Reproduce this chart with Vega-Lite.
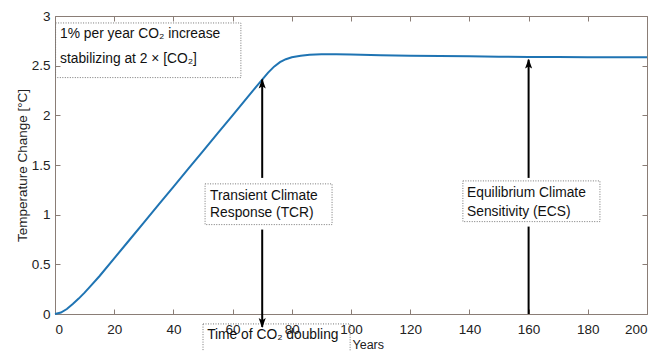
{
  "$schema": "https://vega.github.io/schema/vega-lite/v6.json",
  "width": 592,
  "height": 298,
  "autosize": "none",
  "padding": {"left": 55, "top": 16, "right": 14, "bottom": 37},
  "background": "white",
  "config": {
    "view": {"stroke": "#8a7d76", "strokeWidth": 1},
    "font": "Liberation Sans",
    "axis": {
      "grid": false,
      "domain": false,
      "tickColor": "#8a7d76",
      "tickSize": -5,
      "labelFont": "Liberation Sans",
      "labelFontSize": 13.5,
      "labelColor": "#222222",
      "titleFont": "Liberation Sans",
      "titleFontSize": 13,
      "titleFontWeight": "normal",
      "titleColor": "#222222"
    }
  },
  "datasets": {
    "curve": [
      {"year": 0, "temp": 0}, {"year": 2, "temp": 0.015}, {"year": 4, "temp": 0.05},
      {"year": 6, "temp": 0.1}, {"year": 8, "temp": 0.155}, {"year": 10, "temp": 0.215},
      {"year": 12, "temp": 0.28}, {"year": 15, "temp": 0.38}, {"year": 20, "temp": 0.56},
      {"year": 25, "temp": 0.74}, {"year": 30, "temp": 0.92}, {"year": 35, "temp": 1.1},
      {"year": 40, "temp": 1.28}, {"year": 45, "temp": 1.46}, {"year": 50, "temp": 1.64},
      {"year": 55, "temp": 1.82}, {"year": 60, "temp": 2.0}, {"year": 65, "temp": 2.18},
      {"year": 68, "temp": 2.29}, {"year": 70, "temp": 2.36}, {"year": 72, "temp": 2.43},
      {"year": 74, "temp": 2.49}, {"year": 76, "temp": 2.535}, {"year": 78, "temp": 2.565},
      {"year": 80, "temp": 2.585}, {"year": 83, "temp": 2.6}, {"year": 86, "temp": 2.61},
      {"year": 90, "temp": 2.615}, {"year": 95, "temp": 2.615}, {"year": 100, "temp": 2.612},
      {"year": 110, "temp": 2.605}, {"year": 120, "temp": 2.6}, {"year": 130, "temp": 2.597},
      {"year": 140, "temp": 2.594}, {"year": 150, "temp": 2.59}, {"year": 160, "temp": 2.588},
      {"year": 170, "temp": 2.586}, {"year": 180, "temp": 2.585}, {"year": 190, "temp": 2.584},
      {"year": 200, "temp": 2.584}
    ],
    "boxes": [
      {"x1": 0.2, "x2": 62.8, "y1": 2.93, "y2": 2.38},
      {"x1": 50.7, "x2": 93.6, "y1": 1.31, "y2": 0.9},
      {"x1": 137.8, "x2": 184.1, "y1": 1.34, "y2": 0.93},
      {"x1": 50, "x2": 99.7, "y1": -0.1, "y2": -0.5}
    ],
    "labels": [
      {"x": 1.7, "y": 2.82, "text": "1% per year CO₂ increase"},
      {"x": 1.7, "y": 2.57, "text": "stabilizing at 2 × [CO₂]"},
      {"x": 52.4, "y": 1.19, "text": "Transient Climate"},
      {"x": 52.4, "y": 1.02, "text": "Response (TCR)"},
      {"x": 139.2, "y": 1.22, "text": "Equilibrium Climate"},
      {"x": 139.2, "y": 1.03, "text": "Sensitivity (ECS)"},
      {"x": 51.4, "y": -0.21, "text": "Time of CO₂ doubling"}
    ],
    "arrows": [
      {"x": 70, "y1": 2.36, "y2": 1.37},
      {"x": 70, "y1": 0.85, "y2": -0.13},
      {"x": 160, "y1": 2.56, "y2": 1.37},
      {"x": 160, "y1": 0.88, "y2": 0}
    ],
    "headsUp": [
      {"x": 70, "y": 2.37},
      {"x": 160, "y": 2.57}
    ],
    "headsDown": [
      {"x": 70, "y": -0.14}
    ]
  },
  "resolve": {"axis": {"x": "independent", "y": "independent"}},
  "layer": [
    {
      "data": {"name": "curve"},
      "mark": {"type": "line", "color": "#1f74b3", "strokeWidth": 2},
      "encoding": {
        "x": {"field": "year", "type": "quantitative", "scale": {"domain": [0, 200], "nice": false},
              "axis": {"orient": "bottom", "values": [0, 20, 40, 60, 80, 100, 120, 140, 160, 180, 200], "format": "d",
                       "labelPadding": 13, "title": "Years", "titleAnchor": null, "titleX": 297, "titleY": 24,
                       "titleAlign": "left", "titleBaseline": "top", "titleFontSize": 12.5}},
        "y": {"field": "temp", "type": "quantitative", "scale": {"domain": [0, 3], "nice": false},
              "axis": {"orient": "left", "values": [0, 0.5, 1, 1.5, 2, 2.5, 3], "format": "~r", "labelPadding": 10,
                       "title": "Temperature Change [°C]", "titleX": -33, "titleY": 149,
                       "titleAngle": -90, "titleAlign": "center", "titleBaseline": "middle", "titleFontSize": 13.5}}
      }
    },
    {
      "data": {"name": "curve"},
      "mark": {"type": "point", "opacity": 0},
      "encoding": {
        "x": {"field": "year", "type": "quantitative",
              "axis": {"orient": "top", "values": [0, 20, 40, 60, 80, 100, 120, 140, 160, 180, 200], "labels": false, "title": null}},
        "y": {"field": "temp", "type": "quantitative",
              "axis": {"orient": "right", "values": [0, 0.5, 1, 1.5, 2, 2.5, 3], "labels": false, "title": null}}
      }
    },
    {
      "data": {"name": "boxes"},
      "mark": {"type": "rect", "fill": null, "fillOpacity": 0, "stroke": "#777777", "strokeWidth": 1, "strokeDash": [1, 1.5]},
      "encoding": {
        "x": {"field": "x1", "type": "quantitative", "axis": null},
        "x2": {"field": "x2"},
        "y": {"field": "y1", "type": "quantitative", "axis": null},
        "y2": {"field": "y2"}
      }
    },
    {
      "data": {"name": "labels"},
      "mark": {"type": "text", "align": "left", "baseline": "middle", "fontSize": 13.8, "color": "#111111", "font": "Liberation Sans"},
      "encoding": {
        "x": {"field": "x", "type": "quantitative", "axis": null},
        "y": {"field": "y", "type": "quantitative", "axis": null},
        "text": {"field": "text"}
      }
    },
    {
      "data": {"name": "arrows"},
      "mark": {"type": "rule", "color": "#000000", "strokeWidth": 2},
      "encoding": {
        "x": {"field": "x", "type": "quantitative", "axis": null},
        "y": {"field": "y1", "type": "quantitative", "axis": null},
        "y2": {"field": "y2"}
      }
    },
    {
      "data": {"name": "headsUp"},
      "mark": {"type": "point", "shape": "M0,0L-0.5,1.4L0,1.1L0.5,1.4Z", "filled": true, "color": "#000000", "opacity": 1, "size": 200, "strokeWidth": 0},
      "encoding": {
        "x": {"field": "x", "type": "quantitative", "axis": null},
        "y": {"field": "y", "type": "quantitative", "axis": null}
      }
    },
    {
      "data": {"name": "headsDown"},
      "mark": {"type": "point", "shape": "M0,0L-0.5,-1.4L0,-1.1L0.5,-1.4Z", "filled": true, "color": "#000000", "opacity": 1, "size": 200, "strokeWidth": 0},
      "encoding": {
        "x": {"field": "x", "type": "quantitative", "axis": null},
        "y": {"field": "y", "type": "quantitative", "axis": null}
      }
    }
  ]
}
